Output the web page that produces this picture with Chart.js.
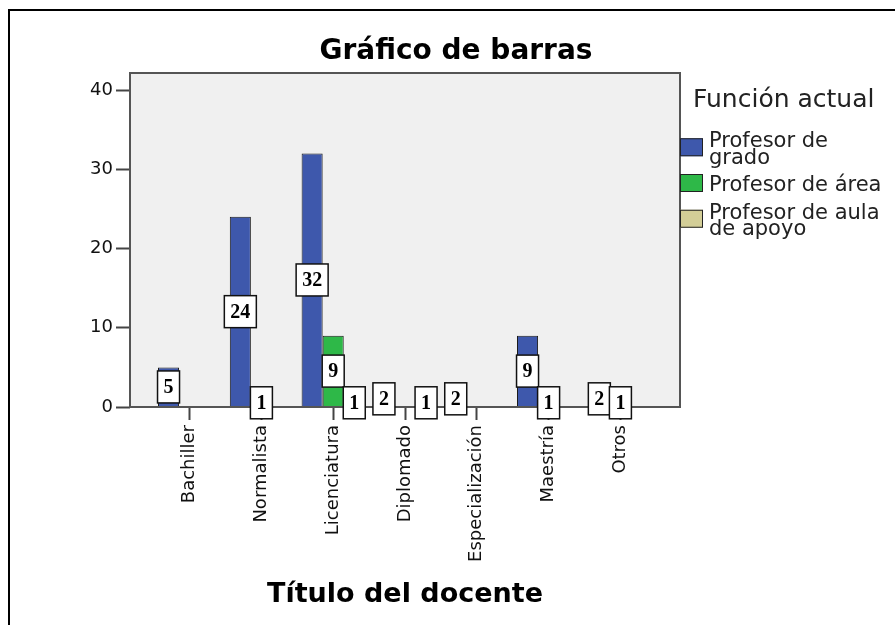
<!DOCTYPE html>
<html>
<head>
<meta charset="utf-8">
<title>Gráfico de barras</title>
<script src="https://cdn.jsdelivr.net/npm/chart.js@4.4.0/dist/chart.umd.min.js"></script>
<style>
	html, body { margin: 0; padding: 0; background: #fff; }
</style>
</head>
<body>
<canvas id="chart" width="895" height="625"></canvas>
<script>
// Título del docente x Función actual (recuento)
const categories = ['Bachiller', 'Normalista', 'Licenciatura', 'Diplomado', 'Especialización', 'Maestría', 'Otros']
const profGrado = [5, 24, 32, 2, 2, 9, 2]
const profArea = [0, 1, 9, 0, 0, 1, 1]
const profApoyo = [0, 0, 1, 1, 0, 0, 0]
const yTicks = [0, 10, 20, 30, 40]

const seriesNames = [['Profesor de', 'grado'], ['Profesor de área'], ['Profesor de aula', 'de apoyo']]
const seriesColors = ['#3e58ac', '#2eb848', '#d3ce97']

Chart.defaults.font.family = '"DejaVu Sans", sans-serif'
Chart.defaults.color = '#111'

// white page, frame and the grey plot box
const frame = {
	id: 'frame',
	beforeDraw(chart) {
		const { ctx, chartArea: a } = chart
		ctx.save()
		ctx.fillStyle = '#fff'
		ctx.fillRect(0, 0, chart.width, chart.height)
		ctx.fillStyle = '#000'
		ctx.fillRect(8, 9, chart.width, 2)
		ctx.fillRect(8, 9, 2, chart.height)
		ctx.fillStyle = '#f0f0f0'
		ctx.fillRect(a.left, a.top, a.right - a.left, a.bottom - a.top)
		ctx.restore()
	},
}

// plot border + value boxes (SPSS style)
const valueBoxes = {
	id: 'valueBoxes',
	afterDatasetsDraw(chart) {
		const { ctx, chartArea: a } = chart
		ctx.save()
		ctx.strokeStyle = '#555'
		ctx.lineWidth = 2
		ctx.strokeRect(a.left, a.top, a.right - a.left, a.bottom - a.top)

		ctx.font = 'bold 20px "Liberation Serif", serif'
		ctx.textAlign = 'center'
		ctx.textBaseline = 'middle'
		chart.data.datasets.forEach((ds, di) => {
			chart.getDatasetMeta(di).data.forEach((bar, i) => {
				const v = ds.data[i]
				if (!v) return
				const text = String(v)
				const w = ctx.measureText(text).width + 12
				const h = 32
				const cx = bar.x
				const cy = (bar.y + bar.base) / 2
				ctx.fillStyle = '#fff'
				ctx.fillRect(cx - w / 2, cy - h / 2, w, h)
				ctx.strokeStyle = '#111'
				ctx.lineWidth = 1.5
				ctx.strokeRect(cx - w / 2, cy - h / 2, w, h)
				ctx.fillStyle = '#000'
				ctx.fillText(text, cx, cy + 1)
			})
		})
		ctx.restore()
	},
}

// title and legend on the right
const sideText = {
	id: 'sideText',
	afterDraw(chart) {
		const { ctx, chartArea: a } = chart
		ctx.save()
		ctx.fillStyle = '#000'
		ctx.textAlign = 'center'
		ctx.textBaseline = 'alphabetic'
		ctx.font = 'bold 28px "DejaVu Sans"'
		ctx.fillText('Gráfico de barras', 456, 59)

		ctx.textAlign = 'left'
		ctx.fillStyle = '#222'
		ctx.font = '25px "DejaVu Sans"'
		ctx.fillText('Función actual', 693, 107)

		ctx.font = '21px "DejaVu Sans"'
		const lineH = 16.5
		let y = 147
		seriesNames.forEach((lines, k) => {
			const mid = y + (lines.length - 1) * lineH / 2 - 8
			ctx.fillStyle = seriesColors[k]
			ctx.fillRect(a.right, mid - 9, 23, 18)
			ctx.strokeStyle = '#222'
			ctx.lineWidth = 1
			ctx.strokeRect(a.right + 0.5, mid - 8.5, 22, 17)
			ctx.fillStyle = '#222'
			lines.forEach((t, j) => ctx.fillText(t, 709, y + j * lineH))
			y += lines.length * lineH + 11
		})
		ctx.restore()
	},
}

const datasets = [profGrado, profArea, profApoyo].map((vals, k) => ({
	label: seriesNames[k].join(' '),
	data: vals,
	backgroundColor: seriesColors[k],
	borderColor: '#1a1a1a',
	borderWidth: c => (c.raw ? 1 : 0),
	borderSkipped: 'start',
	categoryPercentage: 0.88,
	barPercentage: 1,
}))

new Chart(document.getElementById('chart'), {
	type: 'bar',
	data: {
		labels: categories.map((c, i) => i),
		datasets: datasets,
	},
	options: {
		responsive: false,
		animation: false,
		layout: { padding: { top: 73, right: 215, bottom: 0, left: 0 } },
		plugins: {
			legend: { display: false },
			title: { display: false },
			tooltip: { enabled: false },
		},
		scales: {
			x: {
				type: 'linear',
				min: -0.83,
				max: 6.83,
				offset: false,
				z: 1,
				afterBuildTicks: s => { s.ticks = categories.map((c, i) => ({ value: i })) },
				afterFit: s => { s.height = 218 },
				ticks: {
					autoSkip: false,
					minRotation: 90,
					maxRotation: 90,
					padding: 5,
					font: { size: 18 },
					color: '#111',
					callback: v => categories[v],
				},
				grid: { offset: false, drawOnChartArea: false, drawTicks: true, tickLength: 13, tickWidth: 2, tickColor: '#444' },
				border: { display: false },
				title: {
					display: true,
					text: 'Título del docente',
					font: { size: 27, weight: 'bold' },
					color: '#000',
					padding: { top: 0, bottom: 14 },
				},
			},
			y: {
				min: 0,
				max: 42.15,
				afterBuildTicks: s => { s.ticks = yTicks.map(v => ({ value: v })) },
				afterFit: s => { s.width = 130 },
				ticks: { padding: 3, font: { size: 18 }, color: '#111' },
				grid: { drawOnChartArea: false, drawTicks: true, tickLength: 14, tickWidth: 2, tickColor: '#444' },
				border: { display: false },
			},
		},
	},
	plugins: [frame, valueBoxes, sideText],
})
</script>
</body>
</html>
